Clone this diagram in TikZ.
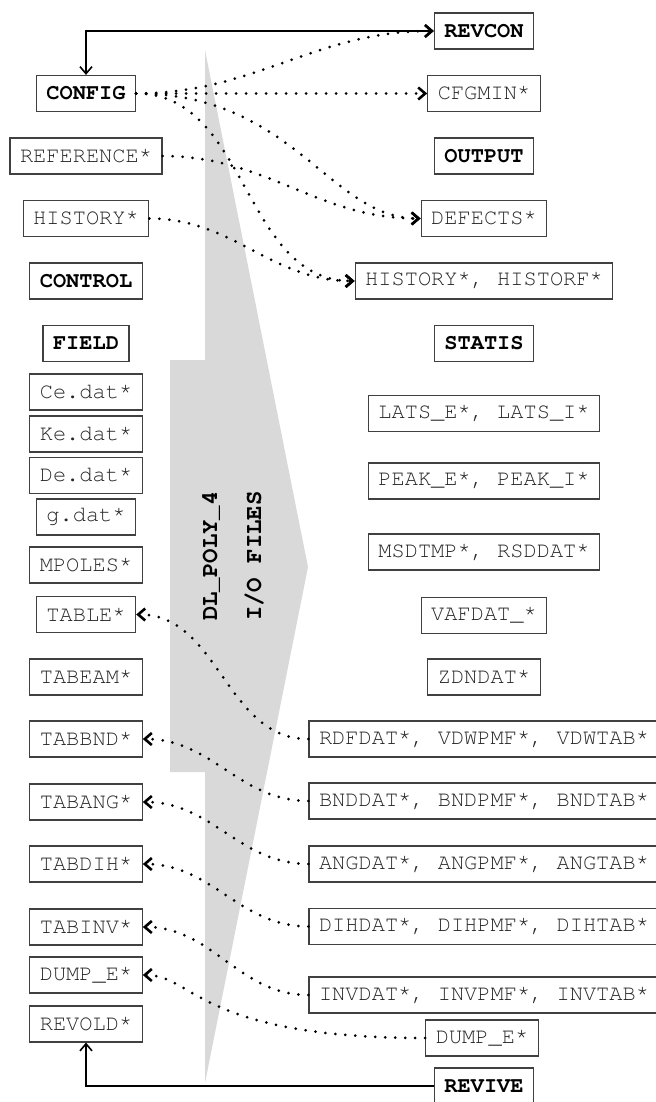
\documentclass[tikz,border=0pt]{standalone}
\usepackage{fontspec}
\setmonofont{TeX Gyre Cursor}
\usetikzlibrary{arrows.meta}

\begin{document}
\begin{tikzpicture}[x=0.5pt,y=-0.5pt,
  filebox/.style={draw=black!75,line width=0.6pt,text=black!85,
    font=\ttfamily\fontsize{11}{13}\selectfont,
    minimum height=18pt,inner xsep=5pt,inner ysep=0pt},
  keyfile/.style={filebox,text=black,font=\ttfamily\bfseries\fontsize{11}{13}\selectfont},
  flow/.style={line width=1.5pt,line cap=round,dash pattern=on 0pt off 5pt,
    -{Straight Barb[length=3.5pt,width=6pt,line width=1.3pt]}},
  feed/.style={line width=0.8pt,-{Straight Barb[length=3.5pt,width=6pt]}}]

\useasboundingbox (0,0) rectangle (656,1102) ;

% the big arrow
\fill[black!15] (205,50) -- (308,567) -- (205,1083) -- (205,772) -- (170,772)
  -- (170,360) -- (205,360) -- cycle ;
\node[rotate=90,align=center,font=\ttfamily\bfseries\fontsize{12}{22}\selectfont]
  (title) at (233,556) {DL\_POLY\_4\\I/O FILES} ;

% input files
\node[keyfile] (config) at (86,93.5) {CONFIG} ;
\node[filebox] (reference) at (86,156) {REFERENCE*} ;
\node[filebox] (historyin) at (86,218.5) {HISTORY*} ;
\node[keyfile] (control) at (86,281) {CONTROL} ;
\node[keyfile] (field) at (86,343.5) {FIELD} ;
\node[filebox] (cedat) at (86,392) {Ce.dat*} ;
\node[filebox] (kedat) at (86,434) {Ke.dat*} ;
\node[filebox] (dedat) at (86,475.5) {De.dat*} ;
\node[filebox] (gdat) at (86,517) {g.dat*} ;
\node[filebox] (mpoles) at (86,565) {MPOLES*} ;
\node[filebox] (table) at (86,614.5) {TABLE*} ;
\node[filebox] (tabeam) at (86,677) {TABEAM*} ;
\node[filebox] (tabbnd) at (86,739) {TABBND*} ;
\node[filebox] (tabang) at (86,802) {TABANG*} ;
\node[filebox] (tabdih) at (86,864) {TABDIH*} ;
\node[filebox] (tabinv) at (86,927) {TABINV*} ;
\node[filebox] (dumpin) at (86,975) {DUMP\_E*} ;
\node[filebox] (revold) at (86,1024) {REVOLD*} ;

% output files
\node[keyfile] (revcon) at (484,31) {REVCON} ;
\node[filebox] (cfgmin) at (484,93.5) {CFGMIN*} ;
\node[keyfile] (output) at (484,156) {OUTPUT} ;
\node[filebox] (defects) at (484,218.5) {DEFECTS*} ;
\node[filebox] (historyout) at (484,281) {HISTORY*, HISTORF*} ;
\node[keyfile] (statis) at (484,343.5) {STATIS} ;
\node[filebox] (lats) at (484,413.5) {LATS\_E*, LATS\_I*} ;
\node[filebox] (peak) at (484,481) {PEAK\_E*, PEAK\_I*} ;
\node[filebox] (msdtmp) at (484,552) {MSDTMP*, RSDDAT*} ;
\node[filebox] (vafdat) at (484,615.5) {VAFDAT\_*} ;
\node[filebox] (zdndat) at (484,677) {ZDNDAT*} ;
\node[filebox] (rdfdat) at (484,739) {RDFDAT*, VDWPMF*, VDWTAB*} ;
\node[filebox] (bnddat) at (484,801) {BNDDAT*, BNDPMF*, BNDTAB*} ;
\node[filebox] (angdat) at (484,864) {ANGDAT*, ANGPMF*, ANGTAB*} ;
\node[filebox] (dihdat) at (484,926.5) {DIHDAT*, DIHPMF*, DIHTAB*} ;
\node[filebox] (invdat) at (484,995) {INVDAT*, INVPMF*, INVTAB*} ;
\node[filebox] (dumpout) at (482,1038) {DUMP\_E*} ;
\node[keyfile] (revive) at (484,1086) {REVIVE} ;

% restart links
\draw[feed,{Straight Barb[length=3.5pt,width=6pt]}-{Straight Barb[length=3.5pt,width=6pt]}]
  (config.north) |- (revcon.west) ;
\draw[feed] (revive.west) -| (revold.south) ;

% data flow
\draw[flow] (config.east) to[out=0,in=180] (revcon.west) ;
\draw[flow] (config.east) -- (cfgmin.west) ;
\draw[flow] (config.east) to[out=0,in=180,out looseness=1.3,in looseness=0.75] (defects.west) ;
\draw[flow] (config.east) to[out=0,in=180] (historyout.west) ;
\draw[flow] (reference.east) to[out=0,in=180] (defects.west) ;
\draw[flow] (historyin.east) to[out=0,in=180] (historyout.west) ;

\draw[flow] (rdfdat.west) to[out=180,in=0] (table.east) ;
\draw[flow] (bnddat.west) to[out=180,in=0] (tabbnd.east) ;
\draw[flow] (angdat.west) to[out=180,in=0] (tabang.east) ;
\draw[flow] (dihdat.west) to[out=180,in=0] (tabdih.east) ;
\draw[flow] (invdat.west) to[out=180,in=0] (tabinv.east) ;
\draw[flow] (dumpout.west) to[out=180,in=0,out looseness=2,in looseness=0.45] (dumpin.east) ;

\end{tikzpicture}
\end{document}
